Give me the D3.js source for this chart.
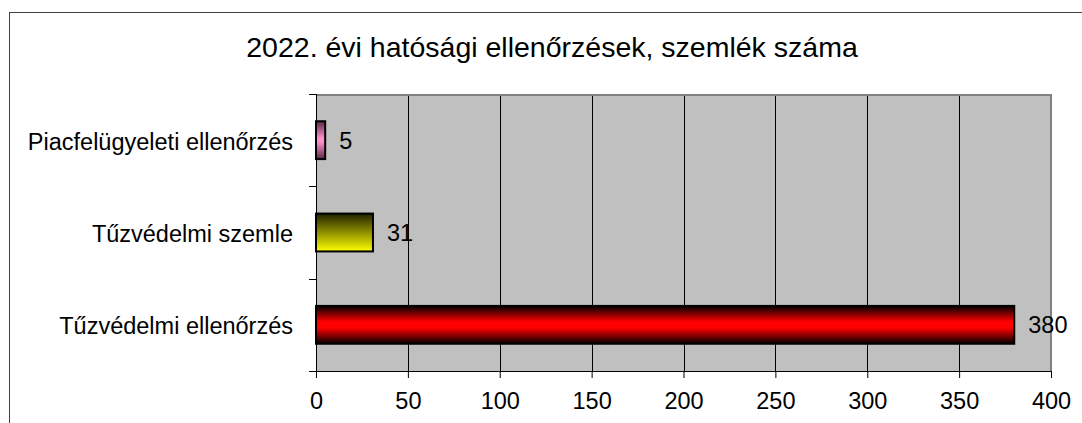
<!DOCTYPE html>
<html>
<head>
<meta charset="utf-8">
<script src="https://cdn.jsdelivr.net/npm/d3@7"></script>
<style>
  body { margin: 0; background: #fff; }
  svg { display: block; font-family: "Liberation Sans", Arial, sans-serif; }
</style>
</head>
<body>
<div id="container"></div>
<script>
const title = '2022. évi hatósági ellenőrzések, szemlék száma'
const categories = ['Piacfelügyeleti ellenőrzés', 'Tűzvédelmi szemle', 'Tűzvédelmi ellenőrzés']
const values = [5, 31, 380]
const xTicks = [0, 50, 100, 150, 200, 250, 300, 350, 400]

const width = 1082
const height = 423
const margin = { top: 94, right: 31, bottom: 52, left: 316 }
const fontSize = 23.5

const svg = d3.select('#container')
    .append('svg')
    .attr('width', width)
    .attr('height', height)

// outer chart frame (right/bottom edges are off-screen)
svg.append('rect')
    .attr('x', 9.5).attr('y', 12.5)
    .attr('width', width).attr('height', height)
    .attr('fill', 'none')
    .attr('stroke', '#404040')

svg.append('text')
    .attr('x', 552)
    .attr('y', 57)
    .attr('text-anchor', 'middle')
    .attr('font-size', 28.5)
    .text(title)

const xScale = d3.scaleLinear()
    .domain([0, 400])
    .range([margin.left, width - margin.right])

const yScale = d3.scaleBand()
    .domain(categories)
    .range([margin.top, height - margin.bottom])
    .paddingInner(0.59)
    .paddingOuter(0.295)

// gradients
const defs = svg.append('defs')
const grads = [
    { id: 'g0', stops: [['0%', '#5a2744'], ['45%', '#ff8fcc'], ['55%', '#ff8fcc'], ['100%', '#5a2744']] },
    { id: 'g1', stops: [['0%', '#202000'], ['100%', '#ffff00']] },
    { id: 'g2', stops: [['0%', '#000000'], ['42%', '#ff0000'], ['58%', '#ff0000'], ['100%', '#000000']] }
]
grads.forEach(g => {
    const lg = defs.append('linearGradient')
        .attr('id', g.id)
        .attr('x1', 0).attr('y1', 0).attr('x2', 0).attr('y2', 1)
    g.stops.forEach(s => lg.append('stop').attr('offset', s[0]).attr('stop-color', s[1]))
})

// plot area
svg.append('rect')
    .attr('x', margin.left)
    .attr('y', margin.top)
    .attr('width', xScale(400) - margin.left)
    .attr('height', height - margin.bottom - margin.top)
    .attr('fill', '#c0c0c0')

// grid
svg.append('g')
    .selectAll('line')
    .data(xTicks.slice(1, -1))
    .join('line')
    .attr('x1', d => Math.round(xScale(d)) + 0.5)
    .attr('x2', d => Math.round(xScale(d)) + 0.5)
    .attr('y1', margin.top)
    .attr('y2', height - margin.bottom)
    .attr('stroke', '#000')

// plot border top & right
svg.append('path')
    .attr('d', `M${margin.left},${margin.top + 1}H${xScale(400)}V${height - margin.bottom}`)
    .attr('fill', 'none')
    .attr('stroke', '#808080')
    .attr('stroke-width', 2)

// bars
svg.selectAll('.bar')
    .data(values)
    .join('rect')
    .attr('class', 'bar')
    .attr('x', xScale(0))
    .attr('y', (d, i) => yScale(categories[i]))
    .attr('width', d => xScale(d) - xScale(0))
    .attr('height', yScale.bandwidth())
    .attr('fill', (d, i) => `url(#g${i})`)
    .attr('stroke', '#000')
    .attr('stroke-width', 2)

svg.selectAll('.val')
    .data(values)
    .join('text')
    .attr('class', 'val')
    .attr('x', d => xScale(d) + 14)
    .attr('y', (d, i) => yScale(categories[i]) + yScale.bandwidth() / 2)
    .attr('dy', '0.36em')
    .attr('font-size', fontSize)
    .text(d => d)

// x axis
const xAxis = d3.axisBottom(xScale).tickValues(xTicks).tickSize(7).tickPadding(14)
const gx = svg.append('g')
    .attr('transform', `translate(0, ${height - margin.bottom})`)
    .call(xAxis)
gx.select('.domain').attr('stroke', '#000')
gx.selectAll('text').attr('font-size', fontSize).attr('font-family', '"Liberation Sans", Arial, sans-serif').attr('fill', '#000')

// y axis with ticks at category boundaries
const bounds = d3.range(categories.length + 1).map(i => margin.top + i * (height - margin.bottom - margin.top) / categories.length)
svg.append('line')
    .attr('x1', margin.left + 0.5).attr('x2', margin.left + 0.5)
    .attr('y1', margin.top).attr('y2', height - margin.bottom)
    .attr('stroke', '#000')
svg.append('g')
    .selectAll('line')
    .data(bounds)
    .join('line')
    .attr('x1', margin.left - 7).attr('x2', margin.left)
    .attr('y1', d => Math.round(d) + 0.5).attr('y2', d => Math.round(d) + 0.5)
    .attr('stroke', '#000')

svg.append('g')
    .selectAll('text')
    .data(categories)
    .join('text')
    .attr('x', margin.left - 23)
    .attr('y', d => yScale(d) + yScale.bandwidth() / 2)
    .attr('dy', '0.4em')
    .attr('text-anchor', 'end')
    .attr('font-size', fontSize)
    .text(d => d)
</script>
</body>
</html>
